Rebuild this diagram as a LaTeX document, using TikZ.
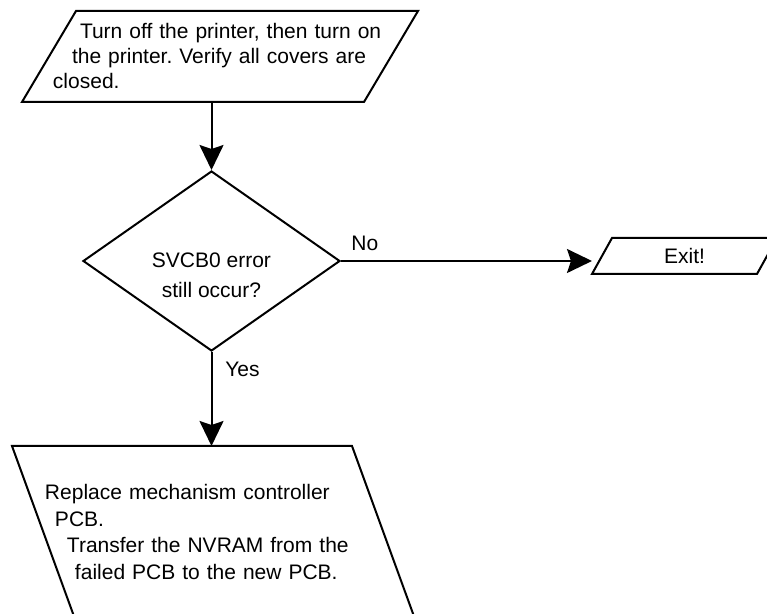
\documentclass[tikz,border=0pt]{standalone}
\usepackage{fontspec}
\setmainfont{Liberation Sans}
\frenchspacing
\usetikzlibrary{arrows.meta, positioning, shapes.geometric}
\tikzset{
  % blocks
  io/.style 2 args = {align=left, font=\fontsize{10.5}{12.5}\selectfont,
                      inner sep=0pt, outer sep=0pt,
                      append after command={\pgfextra{
                        \draw[line width=1pt]
                          ([xshift=#1]\tikzlastnode.north west)
                          -- ([xshift=-#2]\tikzlastnode.north east)
                          -- ([xshift=-#1]\tikzlastnode.south east)
                          -- ([xshift=#2]\tikzlastnode.south west) -- cycle;}}},
  decision/.style  = {draw, diamond, aspect=1.43, line width=1pt, align=center,
                      font=\fontsize{10.5}{12.5}\selectfont, inner sep=0pt,
                      minimum width=128.5pt, minimum height=90pt},
  lbl/.style       = {font=\fontsize{10.5}{12.5}\selectfont, inner sep=0pt},
  % arrows
  flow/.style = {-{Stealth[length=12.5pt, width=12pt, inset=2pt]}, line width=1pt},
}
\begin{document}
\begin{tikzpicture}
\useasboundingbox (0,0) rectangle (383.5pt,-307pt);

% ---------- Boxes ----------
\node[io={27pt}{0pt}, minimum width=198pt, minimum height=45.5pt,
      text width=167pt] (restart) at (110pt,-28.25pt)
  {\hspace*{13.5pt}Turn off the printer, then turn on\\
   \hspace*{9.5pt}the printer. Verify all covers are\\
   closed.};

\node[decision, below=34pt of restart, xshift=-4.25pt] (check)
  {\mbox{}\\[9pt]SVCB0 error\\[2.5pt]still occur?};

\node[io={10pt}{0pt}, minimum width=92.5pt, minimum height=18pt, align=center,
      right=125.5pt of check, yshift=2.5pt] (exit) {Exit!};

\node[io={0pt}{31.3pt}, minimum width=201.3pt, minimum height=86pt,
      text width=168.3pt, font=\fontsize{10.5}{13.3}\selectfont,
      below=47pt of check, xshift=0.9pt] (replace)
  {Replace mechanism controller\\
   \hspace*{5pt}PCB.\\
   \hspace*{11pt}Transfer the NVRAM from the\\
   \hspace*{15pt}failed PCB to the new PCB.};

% ---------- Flow ----------
\draw[flow] (restart.south -| check.north) -- (check.north);
\draw[flow] (check.east) -- (check.east -| exit.west);
\draw[flow] (check.south) -- (check.south |- replace.north);

% ---------- Labels ----------
\node[lbl, anchor=base west] (lno)  at ([xshift=5pt, yshift=5pt]check.east) {No};
\node[lbl, anchor=base west] (lyes) at ([xshift=6.75pt, yshift=-12.5pt]check.south) {Yes};

\end{tikzpicture}
\end{document}
